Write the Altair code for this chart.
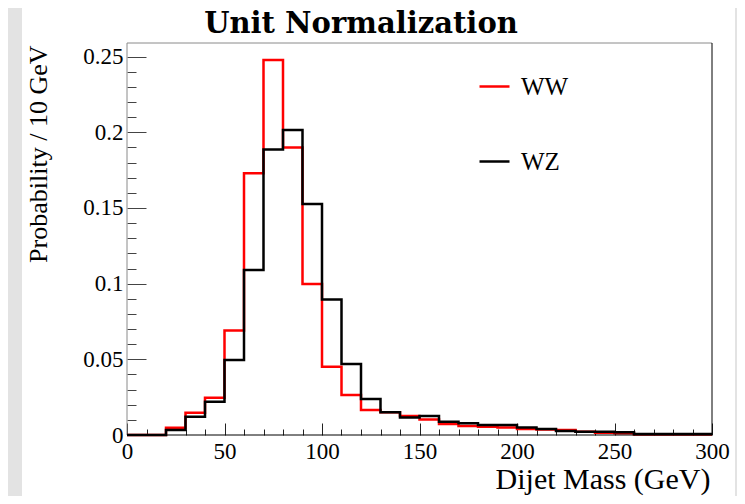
import altair as alt
import pandas as pd

# ---- data ----
bin_edges = [0, 10, 20, 30, 40, 50, 60, 70, 80, 90, 100, 110, 120, 130, 140, 150,
             160, 170, 180, 190, 200, 210, 220, 230, 240, 250, 260, 270, 280, 290]
ww = [0.0, 0.0, 0.0048, 0.0147, 0.0246, 0.069, 0.173, 0.2477, 0.190, 0.0997,
      0.0451, 0.0264, 0.0165, 0.0150, 0.0125, 0.0103, 0.0073, 0.0060, 0.0055, 0.0050,
      0.0040, 0.0037, 0.0033, 0.0022, 0.0015, 0.0011, 0.0004, 0.0004, 0.0003, 0.0003]
wz = [0.0, 0.0, 0.0033, 0.0120, 0.0220, 0.0495, 0.109, 0.1887, 0.2015, 0.1526,
      0.0896, 0.0469, 0.0238, 0.0150, 0.0115, 0.0125, 0.0088, 0.0077, 0.0066, 0.0066,
      0.0050, 0.0040, 0.0026, 0.0022, 0.0022, 0.0018, 0.0007, 0.0007, 0.0006, 0.0006]
x_end = 300
series_names = ["WW", "WZ"]
series_colors = ["#ff0000", "#000000"]
chart_title = "Unit Normalization"

# tick positions: majors carry labels, the others are minor ticks
x_ticks = [v for v in range(0, 301, 10)]
y_ticks = [round(i * 0.01, 2) for i in range(0, 26)]

# ---- tables ----
rows = []
for name, vals in zip(series_names, [ww, wz]):
    for e, v in zip(bin_edges, vals):
        rows.append({"x": e, "y": v, "s": name})
    rows.append({"x": x_end, "y": vals[-1], "s": name})
hist = pd.DataFrame(rows)

W, H = 585, 392
xs = alt.Scale(domain=[0, 300], nice=False, zero=False)
ys = alt.Scale(domain=[0, 0.259], nice=False, zero=True)
SERIF = "Liberation Serif"
one = pd.DataFrame({"a": [0]})
GRAY_BG = "#e3e3e3"

Y_MAJOR = "abs(datum.value*20 - round(datum.value*20)) < 0.001"
X_MAJOR = "datum.value % 50 == 0"

x_axis = alt.Axis(
    values=x_ticks, grid=False, domain=False, labelFlush=False,
    ticks=True, tickColor="#222222", tickWidth=1,
    tickSize=alt.ExprRef(f"({X_MAJOR}) ? -12 : -6"),
    labelExpr=f"({X_MAJOR}) ? datum.label : ''",
    labelFont=SERIF, labelFontSize=23, labelColor="black", labelPadding=17,
    title="Dijet Mass (GeV)", titleFont=SERIF, titleFontSize=30,
    titleFontWeight="normal", titleColor="black",
    titleX=583, titleY=53, titleAlign="right", titleBaseline="alphabetic")
y_axis = alt.Axis(
    values=y_ticks, format="~g", grid=False, domain=False, labelFlush=False,
    ticks=True, tickColor="#444444", tickWidth=1,
    tickSize=alt.ExprRef(f"({Y_MAJOR}) ? -19 : -9"),
    labelExpr=f"({Y_MAJOR}) ? datum.label : ''",
    labelFont=SERIF, labelFontSize=23, labelColor="black", labelPadding=23,
    title="Probability / 10 GeV", titleFont=SERIF, titleFontSize=26,
    titleFontWeight="normal", titleColor="black", titleAngle=270,
    titleX=-89, titleY=2, titleAlign="right", titleBaseline="middle")

left_strip = alt.Chart(one).mark_rect(color=GRAY_BG).encode(
    x=alt.value(-119), x2=alt.value(-105), y=alt.value(-35), y2=alt.value(453))
right_strip = alt.Chart(one).mark_rect(color=GRAY_BG).encode(
    x=alt.value(608), x2=alt.value(610), y=alt.value(-35), y2=alt.value(453))
top_edge = alt.Chart(one).mark_rule(color="#8a8a8a").encode(
    x=alt.value(0), x2=alt.value(W), y=alt.value(0))
left_edge = alt.Chart(one).mark_rule(color="#8a8a8a").encode(
    x=alt.value(0), y=alt.value(0), y2=alt.value(H))

title_mark = alt.Chart(pd.DataFrame({"t": [chart_title]})).mark_text(
    font="DejaVu Serif", fontWeight="bold", fontSize=29, color="black",
    align="center", baseline="alphabetic").encode(
    text="t:N", x=alt.value(234), y=alt.value(-10))

lines = alt.Chart(hist).mark_line(interpolate="step-after", strokeWidth=2.5).encode(
    x=alt.X("x:Q", scale=xs, axis=x_axis),
    y=alt.Y("y:Q", scale=ys, axis=y_axis),
    color=alt.Color("s:N", scale=alt.Scale(domain=series_names, range=series_colors),
                    legend=alt.Legend(orient="none", legendX=351, legendY=27, title=None,
                                      symbolType="stroke", symbolSize=900,
                                      symbolStrokeWidth=2.5, labelFont=SERIF,
                                      labelFontSize=25, labelColor="black",
                                      labelOffset=10, rowPadding=45, padding=0)),
    order=alt.Order("s:N"),
)

right_edge = alt.Chart(pd.DataFrame({"x": [x_end]})).mark_rule(color="black").encode(
    x=alt.X("x:Q", scale=xs, axis=x_axis), y=alt.value(0), y2=alt.value(H))
bottom_edge = alt.Chart(pd.DataFrame({"y": [0]})).mark_rule(color="black").encode(
    y=alt.Y("y:Q", scale=ys, axis=y_axis), x=alt.value(0), x2=alt.value(W))

chart = alt.layer(left_strip, right_strip, top_edge, left_edge,
                  lines, right_edge, bottom_edge, title_mark).properties(
    width=W, height=H,
    autosize="none",
    padding={"left": 119, "top": 35, "right": 25, "bottom": 61},
).configure(background="white").configure_view(stroke=None)

chart.save("out.html", embed_options={"renderer": "svg", "actions": False})
